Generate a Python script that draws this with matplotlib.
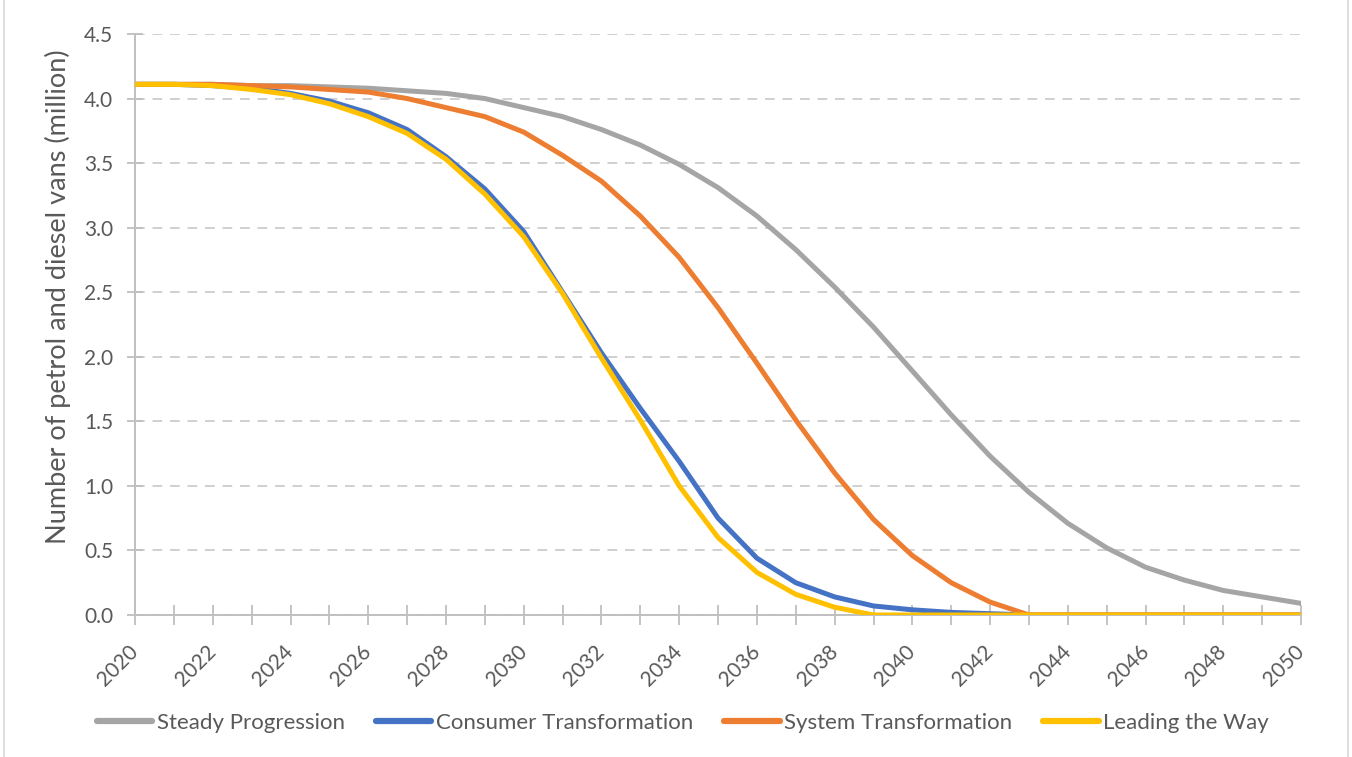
import matplotlib
matplotlib.use("Agg")
import matplotlib.pyplot as plt
from matplotlib.lines import Line2D

years = list(range(2020, 2051))

steady_progression = [4.11, 4.11, 4.11, 4.10, 4.10, 4.09, 4.08, 4.06, 4.04, 4.00,
                      3.93, 3.86, 3.76, 3.64, 3.49, 3.31, 3.09, 2.83, 2.54, 2.23,
                      1.89, 1.55, 1.23, 0.95, 0.71, 0.52, 0.37, 0.27, 0.19, 0.14, 0.09]
consumer_transformation = [4.11, 4.11, 4.10, 4.08, 4.04, 3.98, 3.89, 3.76, 3.55, 3.30,
                           2.97, 2.50, 2.03, 1.60, 1.19, 0.75, 0.44, 0.25, 0.14, 0.07,
                           0.04, 0.02, 0.01, 0.00, 0.00, 0.00, 0.00, 0.00, 0.00, 0.00, 0.00]
system_transformation = [4.11, 4.11, 4.11, 4.10, 4.09, 4.07, 4.05, 4.00, 3.93, 3.86,
                         3.74, 3.56, 3.36, 3.09, 2.77, 2.38, 1.95, 1.51, 1.10, 0.74,
                         0.46, 0.25, 0.10, 0.00, 0.00, 0.00, 0.00, 0.00, 0.00, 0.00, 0.00]
leading_the_way = [4.11, 4.11, 4.10, 4.07, 4.03, 3.96, 3.86, 3.73, 3.53, 3.26,
                   2.93, 2.49, 1.99, 1.51, 1.00, 0.60, 0.33, 0.16, 0.06, 0.00,
                   0.00, 0.00, 0.00, 0.00, 0.00, 0.00, 0.00, 0.00, 0.00, 0.00, 0.00]

series_names = ["Steady Progression", "Consumer Transformation",
                "System Transformation", "Leading the Way"]
series_values = [steady_progression, consumer_transformation,
                 system_transformation, leading_the_way]
series_colors = ["#a5a5a5", "#4472c4", "#ed7d31", "#ffc000"]

y_ticks = [0.0, 0.5, 1.0, 1.5, 2.0, 2.5, 3.0, 3.5, 4.0, 4.5]
x_label_years = list(range(2020, 2051, 2))
y_label = "Number of petrol and diesel vans (million)"

text_color = "#595959"
axis_color = "#bfbfbf"
plt.rcParams["font.family"] = ["Lato", "DejaVu Sans"]

fig = plt.figure(figsize=(13.52, 7.57), dpi=100)
ax = fig.add_axes([0.0999, 0.1876, 0.8624, 0.7675])

# Draw order: gray, orange, blue, then yellow on top
draw_order = [0, 2, 1, 3]
for i in draw_order:
    ax.plot(years, series_values[i], color=series_colors[i], lw=3.6,
            solid_capstyle="round", solid_joinstyle="round", zorder=3 + i)

ax.set_xlim(2020, 2050)
ax.set_ylim(0, 4.5)

ax.set_yticks(y_ticks)
ax.set_yticklabels([f"{v:.1f}" for v in y_ticks])
ax.set_xticks(years)
ax.set_xticklabels([str(y) if y in x_label_years else "" for y in years],
                   rotation=45, ha="right", va="center", rotation_mode="anchor")

ax.tick_params(axis="y", direction="inout", length=11.5, width=1.3, color=axis_color,
               labelsize=15, labelcolor=text_color, pad=10)
ax.tick_params(axis="x", direction="inout", length=14, width=1.3, color=axis_color,
               labelsize=15, labelcolor=text_color, pad=17)

ax.grid(axis="y", color="#d0d0d0", linestyle=(0, (5, 4)), linewidth=1.4, zorder=1)
ax.set_axisbelow(True)

for side in ("top", "right"):
    ax.spines[side].set_visible(False)
for side in ("left", "bottom"):
    ax.spines[side].set_color(axis_color)
    ax.spines[side].set_linewidth(1.4)

ax.set_ylabel(y_label, fontsize=19.5, color=text_color)
ax.yaxis.set_label_coords(-0.066, 0.547)
ax.yaxis.label.set_verticalalignment("center")

handles = [Line2D([0], [0], color=c, lw=4.5, solid_capstyle="round") for c in series_colors]
leg = fig.legend(handles, series_names, loc="center", bbox_to_anchor=(0.505, 0.045),
                 ncol=4, frameon=False, fontsize=16, handlelength=2.5,
                 handletextpad=0.2, columnspacing=1.4, labelcolor=text_color)

# Outer chart frame edges
fig.add_artist(Line2D([0.003, 0.003], [0, 1], transform=fig.transFigure,
                      color="#d9d9d9", lw=1.2))
fig.add_artist(Line2D([0.997, 0.997], [0, 1], transform=fig.transFigure,
                      color="#d9d9d9", lw=1.2))

fig.savefig("out.png", dpi=100, facecolor="white")
